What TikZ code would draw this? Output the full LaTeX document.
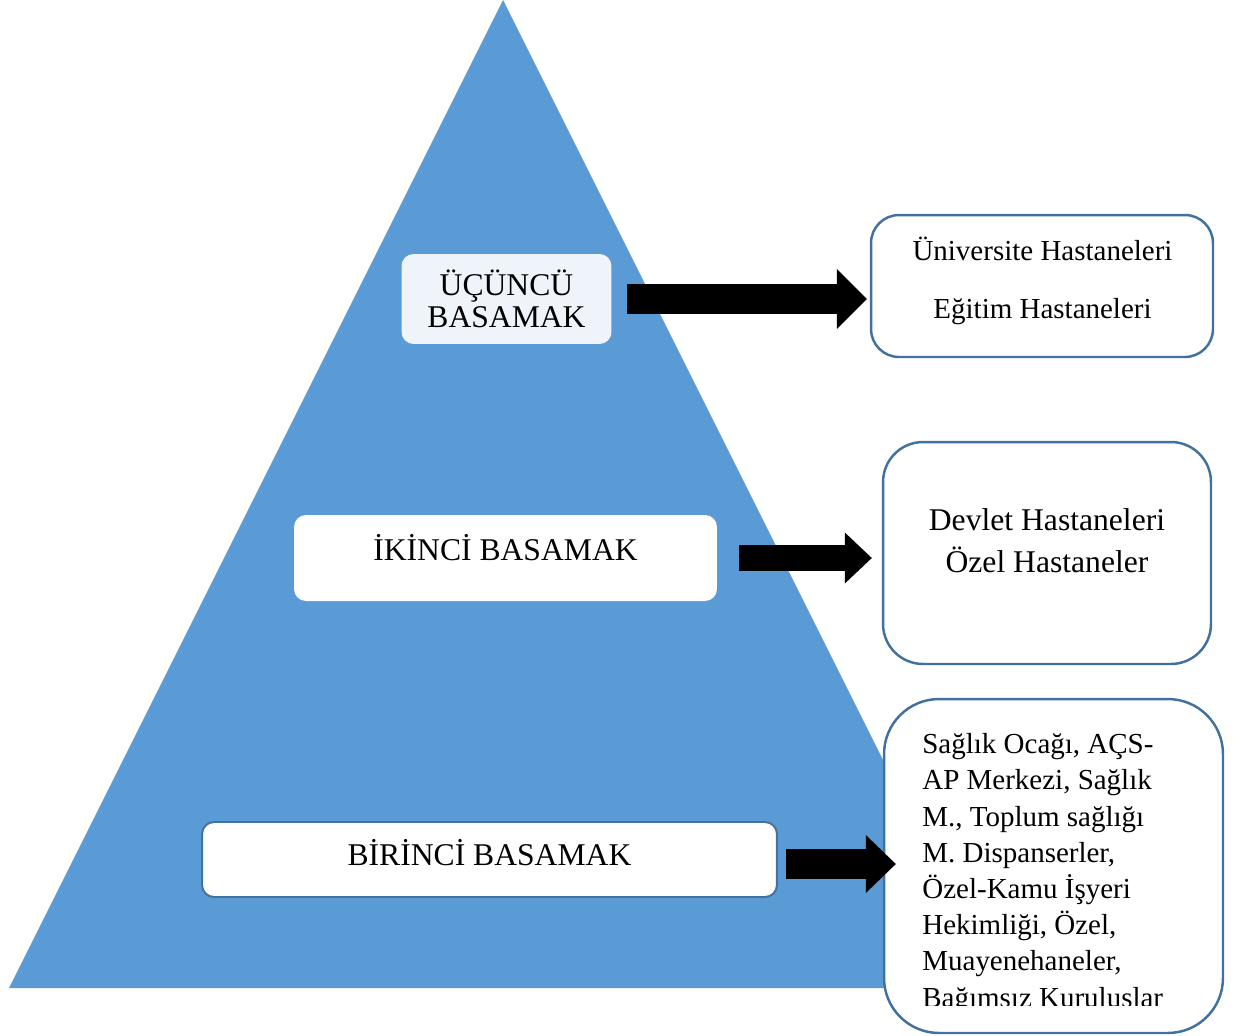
\documentclass[tikz,border=0pt]{standalone}
\usepackage{fontspec}
\setmainfont{Liberation Serif}
\usetikzlibrary{positioning,arrows.meta}
\definecolor{pyramid}{RGB}{91,155,213}
\definecolor{edge}{RGB}{65,113,156}
\definecolor{pale}{RGB}{238,244,250}

\begin{document}
\begin{tikzpicture}[x=0.02cm,y=-0.02cm]
      \tikzset{level/.style = {rounded corners=0.24cm, inner sep=0pt, align=center, font=\fontsize{18}{18}\selectfont}}
      \tikzset{unit/.style = {draw=edge, line width=1.4pt, fill=white, inner sep=0pt}}
      \tikzset{unittext/.style = {inner sep=0pt, anchor=base, align=center}}
      \tikzset{blockarr/.style = {line width=0.6cm, -{Triangle[length=0.6cm, width=1.2cm, line width=0pt]}}}

      \useasboundingbox (0,0) rectangle (1240,1035);
      \fill[pyramid] (503,0) -- (9,988) -- (997,988) -- cycle;

      \node[level, fill=pale, minimum width=4.2cm, minimum height=1.8cm] (L3) at (506.5,299) {ÜÇÜNCÜ\\BASAMAK};
      \node[level, fill=white, minimum width=8.46cm, minimum height=1.72cm, text height=0.48cm, text depth=0.4cm] (L2) at (505.5,558) {İKİNCİ BASAMAK};
      \node[level, fill=white, draw=edge, line width=1.1pt, minimum width=11.5cm, minimum height=1.5cm, text height=0.48cm, text depth=0.26cm] (L1) at (489.5,859.5) {BİRİNCİ BASAMAK};

      \node[unit, rounded corners=0.56cm, minimum width=6.84cm, minimum height=2.84cm] (U1) at (1042,286) {};
      \node[unit, rounded corners=0.8cm, minimum width=6.56cm, minimum height=4.44cm] (U2) at (1047,553) {};
      \node[unit, rounded corners=1.1cm, minimum width=6.78cm, minimum height=6.68cm] (U3) at (1053.5,866) {};

      \node[unittext, font=\fontsize{16.5}{33}\selectfont] (T1) at (1042.5,318) {Üniversite Hastaneleri\\Eğitim Hastaneleri};
      \node[unittext, font=\fontsize{18}{23.9}\selectfont] (T2) at (1047,572) {Devlet Hastaneleri\\Özel Hastaneler};
      \begin{scope}
        \clip (884,690) rectangle (1223,1005);
        \node[unittext, anchor=base west, align=left, font=\fontsize{16.5}{20.6}\selectfont] (T3) at (922,1007) {Sağlık Ocağı, AÇS-\\AP Merkezi, Sağlık\\M., Toplum sağlığı\\M. Dispanserler,\\Özel-Kamu İşyeri\\Hekimliği, Özel,\\Muayenehaneler,\\Bağımsız Kuruluşlar};
      \end{scope}

      \draw[blockarr, shorten <=0.3cm, shorten >=0.06cm] (L3.east) -- (L3.east -| U1.west);
      \draw[blockarr, line width=0.52cm, -{Triangle[length=0.54cm, width=1.02cm, line width=0pt]}, shorten <=0.44cm, shorten >=0.2cm] (L2.east) -- (L2.east -| U2.west);
      \draw[blockarr, -{Triangle[length=0.6cm, width=1.16cm, line width=0pt]}, shorten <=0.16cm, shorten >=-0.26cm] ([yshift=-0.09cm]L1.east) -- ([yshift=-0.09cm]L1.east -| U3.west);
    \end{tikzpicture}
\end{document}
